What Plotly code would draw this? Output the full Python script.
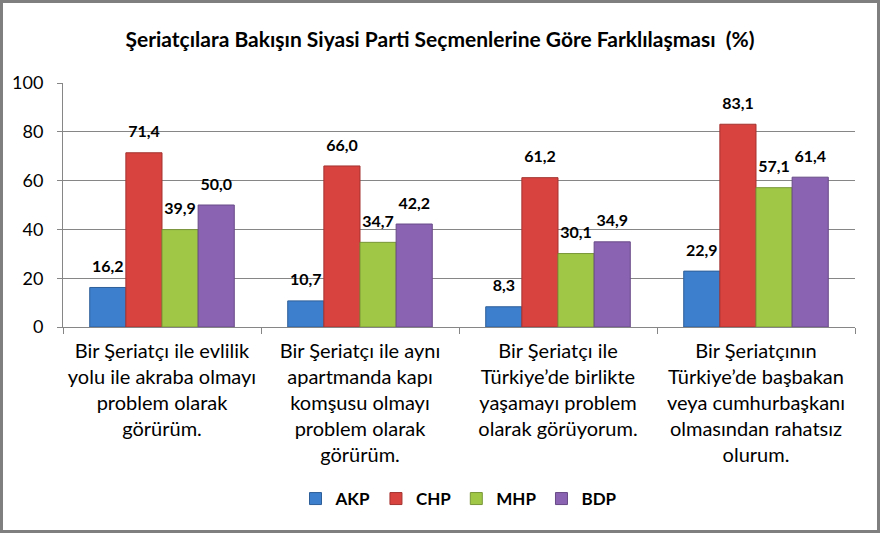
import plotly.graph_objects as go

categories = [
    "Bir Şeriatçı ile evlilik<br>yolu ile akraba olmayı<br>problem olarak<br>görürüm.",
    "Bir Şeriatçı ile aynı<br>apartmanda kapı<br>komşusu olmayı<br>problem olarak<br>görürüm.",
    "Bir Şeriatçı ile<br>Türkiye’de birlikte<br>yaşamayı problem<br>olarak görüyorum.",
    "Bir Şeriatçının<br>Türkiye’de başbakan<br>veya cumhurbaşkanı<br>olmasından rahatsız<br>olurum.",
]
series_names = ["AKP", "CHP", "MHP", "BDP"]
akp = [16.2, 10.7, 8.3, 22.9]
chp = [71.4, 66.0, 61.2, 83.1]
mhp = [39.9, 34.7, 30.1, 57.1]
bdp = [50.0, 42.2, 34.9, 61.4]
values = [akp, chp, mhp, bdp]
colors = ["#3d7fcc", "#d9433f", "#a0c846", "#8a64b2"]
edges = ["#2f5f99", "#a33330", "#789637", "#674a87"]
y_ticks = [0, 20, 40, 60, 80, 100]

FONT = "Lato"

fig = go.Figure()
for name, vals, c, e in zip(series_names, values, colors, edges):
    fig.add_trace(go.Bar(
        name=name, x=categories, y=vals,
        marker=dict(color=c, line=dict(color=e, width=1)),
        texttemplate="<span style='font-size:16px'>%{y:.1f}</span><br> ",
        textposition="outside",
        textfont=dict(family=FONT, size=8, color="black", weight="bold"),
        cliponaxis=False,
    ))

L, R, T, B = 63, 25, 83, 206
W, H = 880, 533
pw, ph = W - L - R, H - T - B

def px2x(p):
    return (p - L) / pw

def py2y(p):
    return (H - B - p) / ph

fig.update_layout(
    width=W, height=H,
    margin=dict(l=L, r=R, t=T, b=B),
    paper_bgcolor="white", plot_bgcolor="white",
    separators=", ",
    barmode="group", bargap=0.27, bargroupgap=0.0,
    title=dict(
        text="Şeriatçılara Bakışın Siyasi Parti Seçmenlerine Göre Farklılaşması  (%)",
        x=0.5, xanchor="center", y=1 - 40 / H, yanchor="middle",
        font=dict(family=FONT, size=21, color="black", weight="bold"),
    ),
    showlegend=True,
    legend=dict(
        orientation="h", x=0.5, xanchor="center", y=py2y(499), yanchor="middle",
        xref="paper", yref="paper",
        font=dict(family=FONT, size=17, color="black", weight="bold"),
        itemwidth=30, traceorder="normal",
    ),
    xaxis=dict(
        type="category", tickson="boundaries", ticks="outside", ticklen=6,
        tickcolor="#868686", showline=True, linecolor="#868686", linewidth=1,
        showgrid=False, ticklabelstandoff=6,
        tickfont=dict(family=FONT, size=20, color="black"),
    ),
    yaxis=dict(
        range=[0, 100], tickvals=y_ticks, ticks="outside", ticklen=5,
        tickcolor="#868686", showline=True, linecolor="#868686", linewidth=1,
        showgrid=True, gridcolor="#868686", gridwidth=1, zeroline=False,
        ticklabelstandoff=10,
        tickfont=dict(family=FONT, size=18, color="black"),
    ),
    shapes=[dict(
        type="rect", xref="paper", yref="paper",
        x0=px2x(1.5), x1=px2x(W - 1.5), y0=py2y(H - 1.5), y1=py2y(1.5),
        line=dict(color="#7f7f7f", width=3), fillcolor="rgba(0,0,0,0)",
        layer="above",
    )],
)

fig.write_html(
    "out.html",
    config={"displayModeBar": False},
    post_script="document.body.style.margin='0';document.body.style.overflow='hidden';",
)
